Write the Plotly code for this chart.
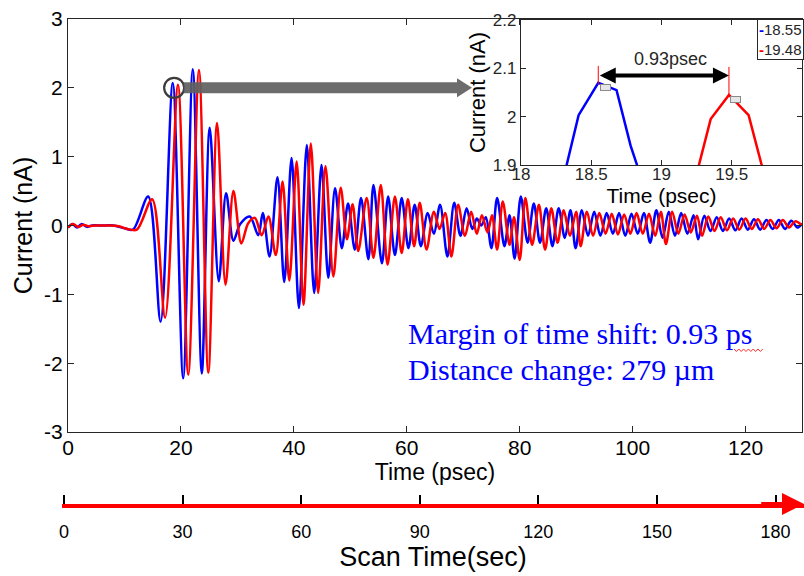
import plotly.graph_objects as go

# ---------------- data ----------------
blue_t = [0, 0.8, 1.6, 2.4, 3.4, 4.3, 6, 8, 10, 11.5, 14.2, 16.4, 18.55, 20.4, 22.1, 23.7, 25.1, 26.7,
          28.0, 29.3, 30.5, 32.2, 33.7, 34.5, 35.7, 37.1, 38.3, 39.6, 40.9, 42.3, 43.6, 44.9, 46.1,
          47.3, 48.5, 49.6, 50.8, 51.9, 53.2, 54.1, 55.6, 56.7, 57.9, 59.1, 60.3, 61.4, 62.5, 63.7,
          64.8, 65.9, 67.2, 68.4, 69.5, 70.6, 71.6, 72.4, 73.2, 74.0, 75.0, 76.0, 77.3, 78.2, 79.1,
          80.2, 81.4, 82.5, 83.6, 84.7, 85.8, 86.9, 88.0, 89.0, 89.9, 91.0, 92.1, 93.2, 94.3, 95.4,
          96.5, 97.6, 98.7, 99.8, 100.9, 102.0, 103.1, 104.2, 105.3, 106.4, 107.5, 108.6, 109.7,
          110.8, 111.6, 112.7, 113.8, 114.9, 116.0, 117.1, 118.2, 119.3, 120.4, 121.5, 122.6, 123.7,
          124.8, 125.9, 127.0, 128.1, 129.2, 130]
blue_v = [-0.03, 0.02, -0.03, 0.02, -0.02, 0.0, 0.0, 0.0, -0.04, -0.06, 0.42, -1.40, 2.07, -2.22, 2.27, -2.15, 1.42, -0.81,
          0.47, -0.22, 0.02, 0.13, -0.14, 0.18, -0.45, 0.70, -0.82, 0.98, -1.20, 1.17, -0.98, 0.88, -0.76,
          0.54, -0.33, 0.32, -0.35, 0.40, -0.49, 0.59, -0.55, 0.42, -0.43, 0.40, -0.33, 0.30, -0.30, 0.18,
          -0.12, 0.30, -0.45, 0.33, -0.15, 0.25, -0.05, 0.10, 0.0, 0.12, -0.33, 0.40, -0.30, 0.15, -0.48,
          0.42, -0.25, 0.32, -0.25, 0.25, -0.30, 0.25, -0.18, 0.22, -0.33, 0.22, -0.15, 0.20, -0.15, 0.18,
          -0.12, 0.18, -0.15, 0.17, -0.12, 0.18, -0.25, 0.22, -0.18, 0.20, -0.15, 0.18, -0.12,
          0.15, -0.20, 0.14, -0.08, 0.12, -0.08, 0.10, -0.07, 0.10, -0.06, 0.09, -0.06, 0.08,
          -0.05, 0.08, -0.05, 0.07, -0.03, 0.03]

red_t = [0, 0.9, 1.8, 2.7, 3.6, 5, 7, 9, 10.5, 12.2, 14.9, 17.2, 19.48, 21.3, 23.2, 24.85, 26.4, 27.9,
         29.3, 30.7, 31.9, 33.1, 34.3, 35.5, 36.8, 38.0, 39.2, 40.5, 41.7, 43.0, 44.3, 45.6, 47.0,
         48.3, 49.4, 50.4, 51.4, 52.9, 54.1, 55.4, 56.6, 57.9, 59.1, 60.2, 61.3, 62.3, 63.5, 64.8,
         65.8, 66.8, 67.9, 69.1, 70.3, 71.4, 72.4, 73.3, 74.3, 75.1, 76.0, 77.0, 78.2, 79.0, 80.0,
         81.0, 82.2, 83.4, 84.5, 85.6, 86.7, 87.8, 88.9, 90.0, 90.8, 91.9, 93.0, 94.1, 95.2, 96.3,
         97.4, 98.5, 99.6, 100.7, 101.8, 102.9, 104.0, 105.0, 105.9, 107.0, 108.1, 109.2, 110.3,
         111.4, 112.3, 113.4, 114.5, 115.6, 116.7, 117.8, 118.9, 120.0, 121.1, 122.2, 123.3, 124.4,
         125.5, 126.6, 127.7, 128.8, 130]
red_v = [-0.03, 0.02, -0.02, 0.01, -0.01, 0.0, 0.0, -0.01, -0.05, -0.06, 0.38, -1.34, 2.045, -2.17, 2.26, -2.14, 1.49, -0.86,
         0.50, -0.26, 0.03, 0.11, -0.14, 0.13, -0.43, 0.64, -0.80, 0.93, -1.15, 1.19, -0.98, 0.86, -0.74,
         0.55, -0.20, 0.31, -0.37, 0.40, -0.47, 0.59, -0.57, 0.42, -0.40, 0.38, -0.30, 0.33, -0.35, 0.20,
         -0.05, 0.18, -0.45, 0.30, -0.15, 0.20, -0.12, 0.15, -0.10, 0.15, -0.35, 0.35, -0.28, 0.12, -0.50,
         0.40, -0.28, 0.30, -0.35, 0.25, -0.25, 0.22, -0.15, 0.20, -0.30, 0.20, -0.15, 0.18, -0.12, 0.17,
         -0.13, 0.16, -0.12, 0.18, -0.12, 0.17, -0.15, 0.20, -0.27, 0.20, -0.12, 0.16, -0.10,
         0.14, -0.15, 0.13, -0.08, 0.12, -0.07, 0.10, -0.06, 0.10, -0.05, 0.09, -0.05, 0.08,
         -0.04, 0.08, -0.03, 0.06, 0.0]

# zoomed (inset) samples around the first main peak
blue_zoom_t = [18.30, 18.41, 18.55, 18.68, 18.78, 18.86]
blue_zoom_v = [1.87, 2.003, 2.07, 2.055, 1.94, 1.87]
red_zoom_t = [19.24, 19.35, 19.48, 19.62, 19.74]
red_zoom_v = [1.87, 1.995, 2.045, 2.003, 1.87]
blue_peak = (18.55, 2.07)
red_peak = (19.48, 2.045)

main_xticks = [0, 20, 40, 60, 80, 100, 120]
main_yticks = [-3, -2, -1, 0, 1, 2, 3]
main_ytext = ["-3", "-2", "-1", "0", "1", "2", "3"]
inset_xticks = [18, 18.5, 19, 19.5, 20]
inset_xtext = ["18", "18.5", "19", "19.5", "2"]
inset_yticks = [1.9, 2.0, 2.1, 2.2]
inset_ytext = ["1.9", "2", "2.1", "2.2"]
scan_ticks = [0, 30, 60, 90, 120, 150, 180]

shift_ps = round(red_peak[0] - blue_peak[0], 2)

# ---------------- figure ----------------
W, H = 804, 576
FONT = "Arial, Liberation Sans, sans-serif"
AX = "#262626"

def px_x(p):
    return p / W

def px_y(p):
    return 1 - p / H

fig = go.Figure()
fig.add_trace(go.Scatter(x=blue_t, y=blue_v, mode="lines", line=dict(color="#0000ff", width=2.5, shape="spline", smoothing=0.9),
                         xaxis="x", yaxis="y", showlegend=False))
fig.add_trace(go.Scatter(x=red_t, y=red_v, mode="lines", line=dict(color="#ff0000", width=2.5, shape="spline", smoothing=0.9),
                         xaxis="x", yaxis="y", showlegend=False))
fig.add_trace(go.Scatter(x=blue_zoom_t, y=blue_zoom_v, mode="lines", line=dict(color="#0000ff", width=2.5),
                         xaxis="x2", yaxis="y2", showlegend=False, cliponaxis=True))
fig.add_trace(go.Scatter(x=red_zoom_t, y=red_zoom_v, mode="lines", line=dict(color="#ff0000", width=2.5),
                         xaxis="x2", yaxis="y2", showlegend=False, cliponaxis=True))

axis_common = dict(showline=True, linecolor=AX, linewidth=1.3, mirror="ticks", ticks="inside",
                   tickcolor=AX, tickwidth=1.3, showgrid=False, zeroline=False, automargin=False,
                   tickfont=dict(family=FONT, size=21, color="black"))

shapes = []
annotations = []

# circle around first peak and gray pointer arrow
shapes.append(dict(type="circle", xref="x", yref="y", xsizemode="pixel", ysizemode="pixel",
                   xanchor=18.8, yanchor=2.0, x0=-10, x1=10, y0=-10, y1=10,
                   line=dict(color="#3c3c3c", width=2.2), layer="above"))
shapes.append(dict(type="rect", xref="x", yref="y", ysizemode="pixel", yanchor=2.0,
                   x0=20.5, x1=68.9, y0=-5.5, y1=5.5, fillcolor="rgba(95,95,95,0.92)", line=dict(width=0), layer="above"))
shapes.append(dict(type="path", xref="x", yref="y", xsizemode="pixel", ysizemode="pixel",
                   xanchor=68.9, yanchor=2.0, path="M 0,-9.5 L 15,0 L 0,9.5 Z",
                   fillcolor="rgba(95,95,95,0.92)", line=dict(width=0), layer="above"))

# inset: red vertical markers at peaks
shapes.append(dict(type="line", xref="x2", yref="y2", x0=blue_peak[0], x1=blue_peak[0],
                   y0=blue_peak[1] - 0.004, y1=2.105, line=dict(color="#ff0000", width=1)))
shapes.append(dict(type="line", xref="x2", yref="y2", x0=red_peak[0], x1=red_peak[0],
                   y0=red_peak[1] - 0.004, y1=2.103, line=dict(color="#ff0000", width=1)))

# double arrow with shift label
annotations.append(dict(x=red_peak[0], y=2.085, ax=blue_peak[0], ay=2.085, xref="x2", yref="y2",
                        axref="x2", ayref="y2", text="", showarrow=True, arrowhead=2, arrowside="end+start",
                        arrowwidth=4, arrowsize=0.8, arrowcolor="black"))
annotations.append(dict(x=(blue_peak[0] + red_peak[0]) / 2 + 0.05, y=2.12, xref="x2", yref="y2",
                        text=f"{shift_ps:.2f}psec", showarrow=False,
                        font=dict(family=FONT, size=18, color="#262626")))
# data tips
for pk in (blue_peak, red_peak):
    annotations.append(dict(x=pk[0], y=pk[1], xref="x2", yref="y2", text=" ", showarrow=False,
                            font=dict(size=3), bgcolor="#e6e6e6", bordercolor="#8a8a8a", borderwidth=1,
                            width=7, height=3, xshift=7, yshift=-5))
# inset legend
annotations.append(dict(x=1.0, y=px_y(19), xref="paper", yref="paper", xanchor="right", yanchor="top",
                        align="left", showarrow=False, bgcolor="white", bordercolor=AX, borderwidth=1, borderpad=1,
                        text=f"<b><span style='color:#0000ff'>-</span></b>{blue_peak[0]:.2f}<br>"
                             f"<b><span style='color:#ff0000'>-</span></b>{red_peak[0]:.2f}",
                        font=dict(family=FONT, size=15, color="#262626")))

# blue text block
TFONT = "Times New Roman, Liberation Serif, serif"
annotations.append(dict(x=px_x(406), y=px_y(333), xref="paper", yref="paper", xanchor="left", yanchor="middle",
                        text=f"Margin of time shift: {shift_ps:.2f} ps", showarrow=False,
                        font=dict(family=TFONT, size=30, color="#0000ff")))
annotations.append(dict(x=px_x(406), y=px_y(369), xref="paper", yref="paper", xanchor="left", yanchor="middle",
                        text="Distance change: 279 µm", showarrow=False,
                        font=dict(family=TFONT, size=30, color="#0000ff")))
# spell-check squiggle under "ps"
zz = []
for i in range(13):
    xx = 734 + 2.4 * i
    yy = 349 if i % 2 == 0 else 351.5
    zz.append(("M" if i == 0 else "L") + f" {px_x(xx):.5f},{px_y(yy):.5f}")
shapes.append(dict(type="path", xref="paper", yref="paper", path=" ".join(zz),
                   line=dict(color="#ff3030", width=1)))

# scan-time arrow head
annotations.append(dict(x=187.2, y=0, ax=176, ay=0, xref="x3", yref="y3", axref="x3", ayref="y3",
                        text="", showarrow=True, arrowhead=2, arrowwidth=4, arrowsize=1.1, arrowcolor="#ff0000"))

fig.update_layout(
    width=W, height=H, margin=dict(l=0, r=0, t=0, b=0),
    paper_bgcolor="white", plot_bgcolor="white",
    font=dict(family=FONT, color="black"),
    xaxis=dict(axis_common, domain=[px_x(68), px_x(802)], range=[0, 130], anchor="y",
               tickvals=main_xticks, ticklen=6, ticklabelstandoff=-3,
               title=dict(text="Time (psec)", font=dict(family=FONT, size=23), standoff=0)),
    yaxis=dict(axis_common, domain=[px_y(432), px_y(19)], range=[-3, 3], anchor="x",
               tickvals=main_yticks, ticktext=main_ytext, ticklen=6,
               title=dict(text="Current (nA)", font=dict(family=FONT, size=25), standoff=4)),
    xaxis2=dict(axis_common, domain=[px_x(521), px_x(802)], range=[18, 20], anchor="y2",
                tickvals=inset_xticks, ticktext=inset_xtext, ticklen=5, ticklabelstandoff=-7,
                tickfont=dict(family=FONT, size=17, color="#262626"),
                title=dict(text="Time (psec)", font=dict(family=FONT, size=21), standoff=0)),
    yaxis2=dict(axis_common, domain=[px_y(165), px_y(20)], range=[1.9, 2.2], anchor="x2",
                tickvals=inset_yticks, ticktext=inset_ytext, ticklen=5,
                tickfont=dict(family=FONT, size=17, color="#262626"),
                title=dict(text="Current (nA)", font=dict(family=FONT, size=22), standoff=1)),
    xaxis3=dict(domain=[px_x(62), 1.0], range=[-0.5, 187.2], anchor="y3", automargin=False,
                showline=True, linecolor="#ff0000", linewidth=4, ticks="inside", ticklen=9,
                tickwidth=1.5, tickcolor="black", tickvals=scan_ticks, showgrid=False, zeroline=False,
                ticklabelstandoff=8, tickfont=dict(family=FONT, size=18, color="black"),
                title=dict(text="Scan Time(sec)", font=dict(family=FONT, size=27), standoff=8)),
    yaxis3=dict(domain=[px_y(504), px_y(494)], range=[0, 1], anchor="x3", visible=False),
    shapes=shapes, annotations=annotations,
)

fig.write_html("out.html")
